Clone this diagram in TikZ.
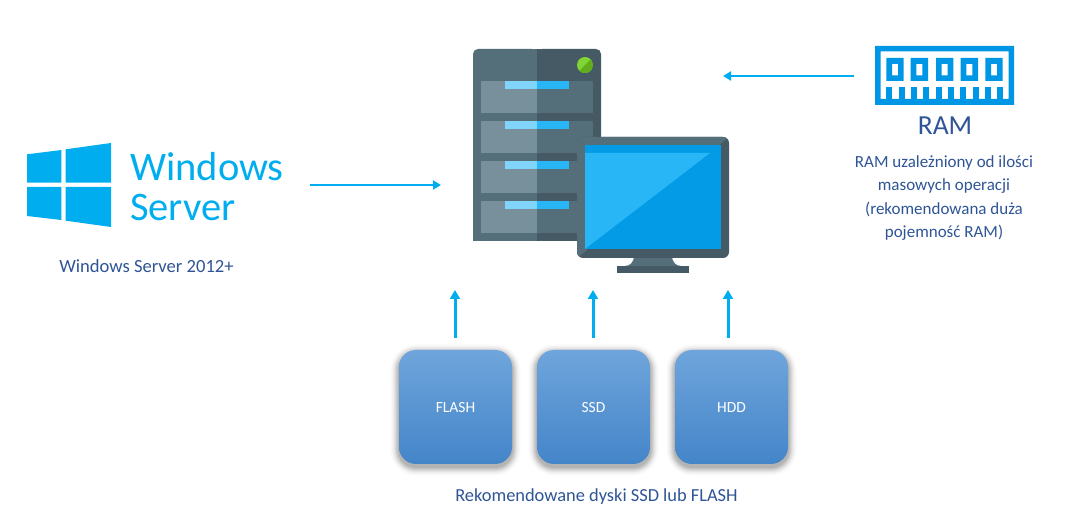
\documentclass[tikz,border=0pt]{standalone}
\usepackage{fontspec}
\setmainfont{Carlito}
\usetikzlibrary{arrows.meta}
\definecolor{arrowblue}{HTML}{00AEEF}
\definecolor{labelblue}{HTML}{2F5597}
\definecolor{slateL}{HTML}{546E7A}
\definecolor{slateD}{HTML}{455A64}
\definecolor{bayL}{HTML}{78909C}
\definecolor{ledL}{HTML}{81D4FA}
\definecolor{ledD}{HTML}{29B6F6}
\definecolor{screenD}{HTML}{039BE5}
\definecolor{ramblue}{HTML}{0096E6}
\definecolor{diskT}{HTML}{6FA5DC}
\definecolor{diskB}{HTML}{4485C9}
\definecolor{dotL}{HTML}{80D434}
\definecolor{dotD}{HTML}{62AD1B}
\tikzset{
  x=1pt,y=-1pt,
  flow/.style={draw=arrowblue,line width=3pt,-{Triangle[length=9pt,width=10pt]}},
  thinflow/.style={draw=arrowblue,line width=2.6pt,-{Triangle[length=8pt,width=9pt]}},
  diskbox/.style={minimum width=113pt,minimum height=114pt,inner sep=0pt,rounded corners=17pt,
    top color=diskT,bottom color=diskB,text=white,font=\fontsize{15.5}{17}\selectfont},
  caption/.style={text=labelblue,align=center,inner sep=0pt},
  brand/.style={text=arrowblue,font=\fontsize{40.5}{40}\selectfont,anchor=base west,inner sep=0pt},
}
\begin{document}
\begin{tikzpicture}
\useasboundingbox (0,0) rectangle (1069,518);
\fill[white] (0,0) rectangle (1069,518);

% Windows logo
\fill[arrowblue] (27,154.3) -- (61.3,150) -- (61.3,182.7) -- (27,182.7) -- cycle;
\fill[arrowblue] (65.7,149.3) -- (111,143) -- (111,182.7) -- (65.7,182.7) -- cycle;
\fill[arrowblue] (27,187) -- (61.3,187) -- (61.3,220) -- (27,216) -- cycle;
\fill[arrowblue] (65.7,187) -- (111,187) -- (111,227) -- (65.7,220.7) -- cycle;
\node[brand] (winA) at (130,181) {Windows};
\node[brand] (winB) at (130,221) {Server};
\node[caption,font=\fontsize{18.6}{23.5}\selectfont] (winCap) at (146.5,266) {Windows Server 2012+};

% Server
\fill[slateL,rounded corners=5pt] (473,241) -- (473,49) -- (537,49) -- (537,241) -- cycle;
\fill[slateD,rounded corners=5pt] (537,241) -- (537,49) -- (601,49) -- (601,241) -- cycle;
\fill[slateL] (473,236) rectangle (477,241);
\fill[slateL] (533,49) rectangle (537,241);
\fill[slateD] (537,49) rectangle (541,241);
\foreach \t in {81,121,161,201}{
  \fill[bayL] (481,\t) rectangle (537,\t+32);
  \fill[slateL] (537,\t) rectangle (593,\t+32);
  \fill[ledL] (505,\t) rectangle (537,\t+8);
  \fill[ledD] (537,\t) rectangle (569,\t+8);
}
\begin{scope}
  \clip (585,65) circle (8);
  \fill[dotL] (577,57) rectangle (593,73);
  \fill[dotD] (593,57) -- (593,73) -- (577,73) -- cycle;
\end{scope}

% Monitor
\fill[slateL] (634,256) .. controls (634,262) and (630,266) .. (625,266) -- (681,266) .. controls (676,266) and (672,262) .. (672,256) -- cycle;
\fill[slateD] (617,266) rectangle (689,273);
\fill[slateD,rounded corners=6pt] (577,137) rectangle (729,258);
\begin{scope}
  \clip[rounded corners=6pt] (577,137) rectangle (729,258);
  \fill[slateL] (577,258) -- (577,137) -- (729,137) -- cycle;
\end{scope}
\fill[screenD] (585,145) rectangle (721,249);
\fill[ledD] (585,153) -- (710,153) -- (585,249) -- cycle;

% RAM
\fill[ramblue,even odd rule] (875,46) rectangle (1014,105) (880.5,51.5) rectangle (1008.5,99);
\foreach \a/\b in {886.3/903.7,910.7/928,936/953.3,960.7/978,985.3/1002.7}{
  \fill[ramblue,even odd rule] (\a,58) rectangle (\b,81) ({(\a+\b)/2-3},64) rectangle ({(\a+\b)/2+3},75.5);
}
\foreach \a in {886.3,898.7,911,923.3,935.7,948,960.3,972.7,985,996.7}{
  \fill[ramblue] (\a,87) rectangle (\a+6,99.5);
}
\node[text=labelblue,font=\fontsize{27.5}{27}\selectfont,inner sep=0pt] (ram) at (945,126) {RAM};
\node[caption,font=\fontsize{17}{23.4}\selectfont] (ramCap) at (944,198) {RAM uzależniony od ilości\\masowych operacji\\(rekomendowana duża\\pojemność RAM)};

% Disks with soft shadow
\foreach \n in {399,537,675}{
  \foreach \g in {1,...,9}{
    \pgfmathsetmacro{\op}{0.007*(10-\g)}
    \fill[black,opacity=\op,rounded corners={17pt+\g*1pt}]
      (\n-\g,350-\g+3) rectangle (\n+113+\g,464+\g+3);
  }
}
\node[diskbox] (flash) at (455.5,407) {\smash{\raisebox{-6pt}{FLASH}}};
\node[diskbox] (ssd) at (593.5,407) {\smash{\raisebox{-6pt}{SSD}}};
\node[diskbox] (hdd) at (731.5,407) {\smash{\raisebox{-6pt}{HDD}}};
\node[caption,font=\fontsize{18.4}{23.5}\selectfont] (diskCap) at (596.5,497) {Rekomendowane dyski SSD lub FLASH};

% Connectors
\coordinate (flashHead) at (455,290);
\coordinate (ssdHead) at (593,290);
\coordinate (hddHead) at (728,290);
\coordinate (flashTail) at (455,338);
\coordinate (ssdTail) at (593,338);
\coordinate (hddTail) at (728,338);
\coordinate (winTail) at (310,185);
\coordinate (winHead) at (441,185);
\coordinate (ramTail) at (854,76);
\coordinate (ramHead) at (723,76);
\draw[flow] (flashTail) -- (flashHead);
\draw[flow] (ssdTail) -- (ssdHead);
\draw[flow] (hddTail) -- (hddHead);
\draw[thinflow] (winTail) -- (winHead);
\draw[thinflow] (ramTail) -- (ramHead);
\end{tikzpicture}
\end{document}
